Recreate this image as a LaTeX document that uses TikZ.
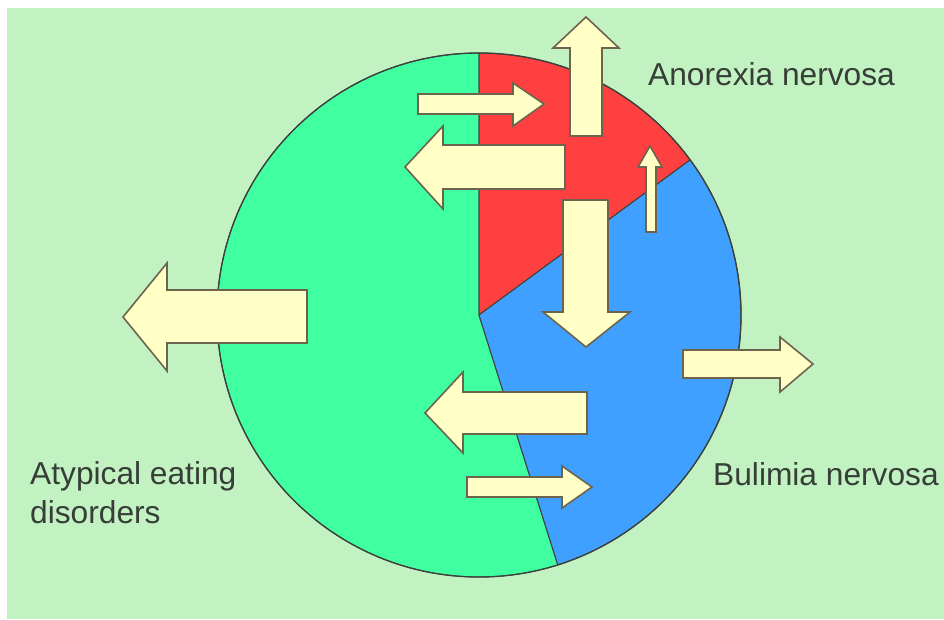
\documentclass[tikz,border=0pt]{standalone}
\usepackage{fontspec}
\setmainfont{Liberation Sans}
\usetikzlibrary{calc}
\definecolor{bgcol}{RGB}{194,242,194}
\definecolor{secgreen}{RGB}{64,255,160}
\definecolor{secred}{RGB}{255,64,64}
\definecolor{secblue}{RGB}{64,160,255}
\definecolor{arrowfill}{RGB}{255,255,198}
\definecolor{arrowline}{RGB}{110,100,78}
\definecolor{rimcol}{RGB}{60,65,60}
\definecolor{labelcol}{RGB}{55,62,55}
\begin{document}
\begin{tikzpicture}[x=1pt,y=-1pt,
  blockarrow/.style={fill=arrowfill,draw=arrowline,line width=1.6pt,line join=miter},
  sector/.style={draw=rimcol,line width=1pt,line join=round},
  label/.style={inner sep=0pt,anchor=base west,text=labelcol,font=\fontsize{31.7}{38}\selectfont}]
\useasboundingbox (0,0) rectangle (944,619);
\fill[white] (0,0) rectangle (944,619);
\fill[bgcol] (7,8) rectangle (944,619);
\coordinate (C) at (479,315);
% sectors
\path[sector,fill=secgreen] (C) -- ($(C)+(270:262)$) arc[start angle=270,end angle=72.5,radius=262] -- cycle;
\path[sector,fill=secred] (C) -- ($(C)+(-90:262)$) arc[start angle=-90,end angle=-36.3,radius=262] -- cycle;
\path[sector,fill=secblue] (C) -- ($(C)+(-36.3:262)$) arc[start angle=-36.3,end angle=72.5,radius=262] -- cycle;
\draw[rimcol,line width=1.3pt] (C) circle[radius=262];
% arrows
\draw[blockarrow] (418,94) -- (513,94) -- (513,83) -- (544,104) -- (513,126) -- (513,114) -- (418,114) -- cycle;
\draw[blockarrow] (565,145) -- (443,145) -- (443,126) -- (405,167) -- (443,209) -- (443,189) -- (565,189) -- cycle;
\draw[blockarrow] (570,136) -- (570,48) -- (553,48) -- (586,17) -- (619,48) -- (602,48) -- (602,136) -- cycle;
\draw[blockarrow] (646,232) -- (646,167) -- (638,167) -- (650,146) -- (662,167) -- (656,167) -- (656,232) -- cycle;
\draw[blockarrow] (563,200) -- (608,200) -- (608,312) -- (630,312) -- (586,347) -- (543,312) -- (563,312) -- cycle;
\draw[blockarrow] (307,290) -- (167,290) -- (167,263) -- (123,317) -- (167,371) -- (167,343) -- (307,343) -- cycle;
\draw[blockarrow] (683,350) -- (780,350) -- (780,337) -- (813,364) -- (780,392) -- (780,378) -- (683,378) -- cycle;
\draw[blockarrow] (587,392) -- (463,392) -- (463,372) -- (425,413) -- (463,453) -- (463,434) -- (587,434) -- cycle;
\draw[blockarrow] (467,477) -- (562,477) -- (562,466) -- (592,487) -- (562,508) -- (562,497) -- (467,497) -- cycle;
% labels
\node[label] (anorexia) at (648,85) {Anorexia nervosa};
\node[label] (bulimia) at (713,485) {Bulimia nervosa};
\node[label] (atyp1) at (30,484) {Atypical eating};
\node[label] (atyp2) at (30,523) {disorders};
\end{tikzpicture}
\end{document}
